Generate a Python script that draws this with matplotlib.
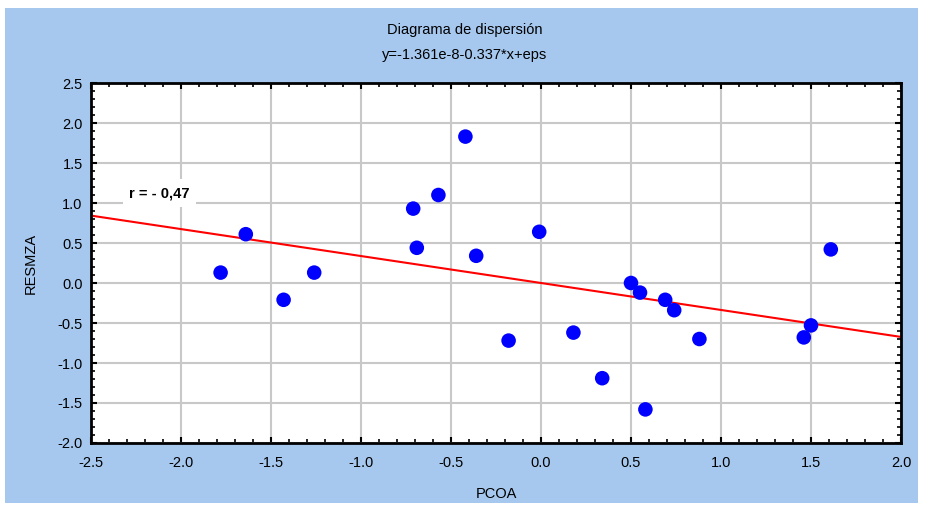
import numpy as np
import matplotlib.pyplot as plt
from matplotlib.patches import Rectangle
from matplotlib.ticker import MultipleLocator

plt.rcParams['font.family'] = ['Liberation Sans', 'DejaVu Sans']

# values
pcoa = [-1.78, -1.64, -1.43, -1.26, -0.71, -0.69, -0.57, -0.42, -0.36, -0.18,
        -0.01, 0.18, 0.34, 0.50, 0.55, 0.58, 0.69, 0.74, 0.88, 1.46, 1.50, 1.61]
resmza = [0.13, 0.61, -0.21, 0.13, 0.93, 0.44, 1.10, 1.83, 0.34, -0.72,
          0.64, -0.62, -1.19, 0.00, -0.12, -1.58, -0.21, -0.34, -0.70, -0.68, -0.53, 0.42]
intercept = -1.361e-8
slope = -0.337

fig = plt.figure(figsize=(9.3, 5.07), dpi=100)
fig.patch.set_facecolor('white')
fig.patches.append(Rectangle((5/930, 4/507), 913/930, 495/507, transform=fig.transFigure,
                             facecolor='#a6c8ef', edgecolor='none', zorder=-10))

ax = fig.add_axes([91/930, 1-443/507, 810/930, 360/507])
ax.set_facecolor('white')

xs = np.array([-2.5, 2.0])
ax.plot(xs, intercept + slope*xs, color='red', lw=1.5, zorder=3)
ax.scatter(pcoa, resmza, s=110, color='#0000ff', edgecolors='none', zorder=4)

ax.set_xlim(-2.5, 2.0)
ax.set_ylim(-2.0, 2.5)
ax.xaxis.set_major_locator(MultipleLocator(0.5))
ax.yaxis.set_major_locator(MultipleLocator(0.5))
ax.xaxis.set_minor_locator(MultipleLocator(0.1))
ax.yaxis.set_minor_locator(MultipleLocator(0.1))
ax.xaxis.set_major_formatter(plt.FuncFormatter(lambda v, p: '%.1f' % v))
ax.yaxis.set_major_formatter(plt.FuncFormatter(lambda v, p: '%.1f' % v))
ax.grid(True, which='major', color='#c8c8c8', lw=1.5, zorder=0)
ax.set_axisbelow(True)
ax.tick_params(which='both', direction='in', top=True, right=True, color='black')
ax.tick_params(which='major', length=4, width=1.5, labelsize=10.5)
ax.tick_params(axis='y', which='major', pad=6)
ax.tick_params(axis='x', which='major', pad=9.6)
ax.tick_params(which='minor', length=3, width=1.2)
for s in ax.spines.values():
    s.set_linewidth(2)
    s.set_zorder(5)

ax.set_xlabel('PCOA', fontsize=10.5, labelpad=11.8)
ax.set_ylabel('RESMZA', fontsize=10.5, labelpad=14)

fig.text(0.5, 1-30/507, 'Diagrama de dispersión', ha='center', va='center', fontsize=10.5)
fig.text(0.5, 1-55/507, 'y=-1.361e-8-0.337*x+eps', ha='center', va='center', fontsize=10.5)

ax.text(-2.12, 1.125, 'r = - 0,47', ha='center', va='center', fontsize=10.5, fontweight='bold',
        bbox=dict(facecolor='white', edgecolor='none', boxstyle='square,pad=0.45'), zorder=6)

plt.savefig('out.png', dpi=100, facecolor=fig.get_facecolor())
